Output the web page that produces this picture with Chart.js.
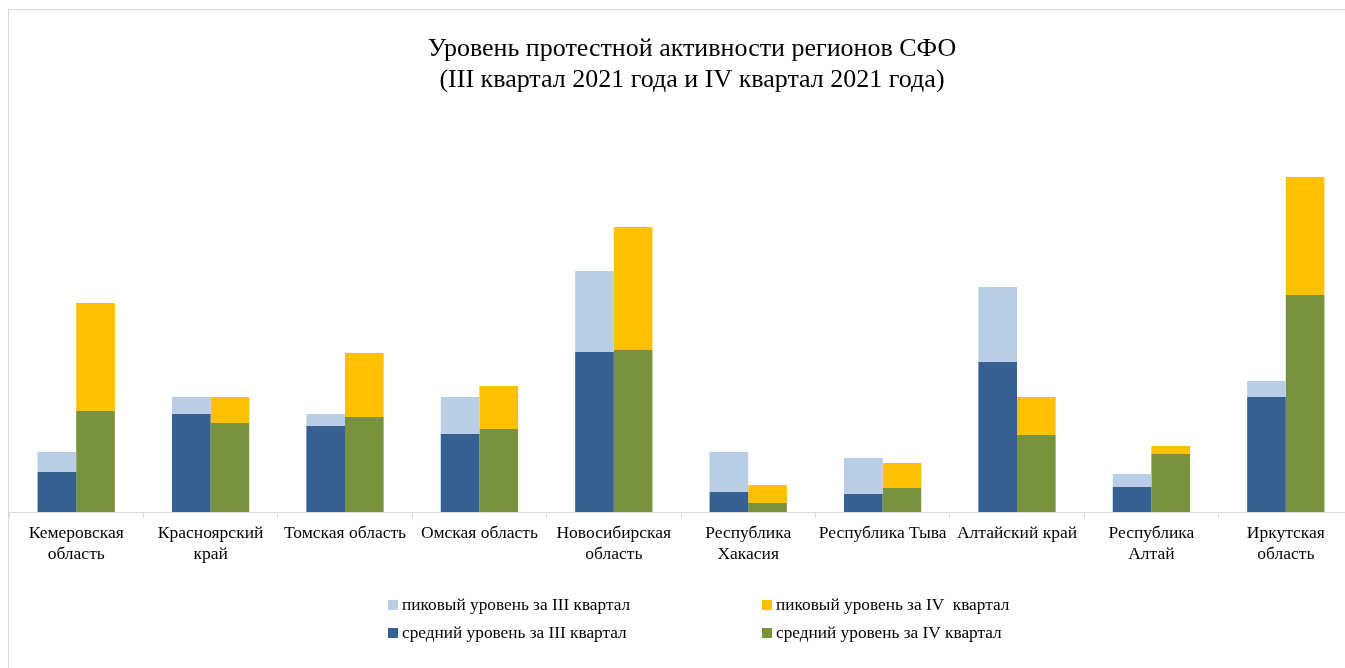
<!DOCTYPE html>
<html lang="ru">
<head>
  <meta charset="utf-8">
  <title>Уровень протестной активности регионов СФО</title>
  <script src="https://cdn.jsdelivr.net/npm/chart.js@4"></script>
  <style>
    html, body { margin: 0; padding: 0; background: #fff; overflow: hidden; }
    #frame {
      position: absolute; left: 8px; top: 9px; width: 1400px; height: 700px;
      border: 1px solid #d9d9d9;
    }
    #chart { position: absolute; left: 0; top: 0; }
  </style>
</head>
<body>
  <div id="frame"></div>
  <canvas id="chart" width="1384" height="668"></canvas>
  <script>
    // regions of the Siberian federal district
    var regions = [
      ['Кемеровская', 'область'],
      ['Красноярский', 'край'],
      'Томская область',
      'Омская область',
      ['Новосибирская', 'область'],
      ['Республика', 'Хакасия'],
      'Республика Тыва',
      'Алтайский край',
      ['Республика', 'Алтай'],
      ['Иркутская', 'область']
    ];

    // average and peak levels, Q3 and Q4 2021
    var avgQ3  = [4.0, 9.8, 8.6, 7.8, 16.0, 2.0, 1.8, 15.0, 2.5, 11.5];
    var peakQ3 = [6.0, 11.5, 9.8, 11.5, 24.1, 6.0, 5.4, 22.5, 3.8, 13.1];
    var avgQ4  = [10.1, 8.9, 9.5, 8.3, 16.2, 0.9, 2.4, 7.7, 5.8, 21.7];
    var peakQ4 = [20.9, 11.5, 15.9, 12.6, 28.5, 2.7, 4.9, 11.5, 6.6, 33.5];

    var yMax = 37.2;
    var serif = '"Liberation Serif", "Times New Roman", serif';

    // peak part sits on top of the average part
    var diff = function (top, base) {
      return top.map(function (v, i) { return +(v - base[i]).toFixed(2); });
    };

    // legend drawn as a 2x2 grid: column = quarter, row = peak/average
    var gridLegend = {
      id: 'gridLegend',
      afterDraw: function (chart) {
        var ctx = chart.ctx;
        var colX = [388, 762];
        var rowY = [605, 633];
        ctx.save();
        ctx.font = '17.3px ' + serif;
        ctx.textBaseline = 'middle';
        chart.data.datasets.forEach(function (ds) {
          var x = colX[ds.stack === 'q3' ? 0 : 1];
          var y = rowY[ds.kind === 'peak' ? 0 : 1];
          ctx.fillStyle = ds.backgroundColor;
          ctx.fillRect(x, y - 5, 10, 10);
          ctx.fillStyle = '#000';
          ctx.fillText(ds.label, x + 14, y);
        });
        ctx.restore();
      }
    };

    // invisible side axes only reserve room around the plot
    var spacer = function (w, pos) {
      return {
        position: pos,
        grid: { display: false },
        border: { display: false },
        ticks: { display: false },
        afterFit: function (scale) { scale.width = w; }
      };
    };

    var yAxis = spacer(9, 'left');
    yAxis.stacked = true;
    yAxis.min = 0;
    yAxis.max = yMax;

    var config = {
      type: 'bar',
      data: {
        labels: regions,
        datasets: [{
          label: 'средний уровень за III квартал',
          data: avgQ3,
          stack: 'q3',
          kind: 'avg',
          backgroundColor: '#376092'
        }, {
          label: 'пиковый уровень за III квартал',
          data: diff(peakQ3, avgQ3),
          stack: 'q3',
          kind: 'peak',
          backgroundColor: '#b9cde5'
        }, {
          label: 'средний уровень за IV квартал',
          data: avgQ4,
          stack: 'q4',
          kind: 'avg',
          backgroundColor: '#77933c'
        }, {
          label: 'пиковый уровень за IV  квартал',
          data: diff(peakQ4, avgQ4),
          stack: 'q4',
          kind: 'peak',
          backgroundColor: '#ffc000'
        }]
      },
      options: {
        responsive: false,
        animation: false,
        categoryPercentage: 0.575,
        barPercentage: 1,
        layout: {
          padding: 0
        },
        scales: {
          x: {
            stacked: true,
            grid: {
              display: true,
              drawOnChartArea: false,
              color: '#d9d9d9',
              tickLength: 6,
              offset: true
            },
            border: { display: true, color: '#d9d9d9' },
            ticks: {
              color: '#000',
              autoSkip: false,
              maxRotation: 0,
              padding: 5,
              font: { family: serif, size: 17.5 }
            },
            afterFit: function (scale) { scale.height = 156; }
          },
          y: yAxis,
          yRight: spacer(31, 'right')
        },
        plugins: {
          legend: { display: false },
          tooltip: { enabled: false },
          title: {
            display: true,
            text: ['Уровень протестной активности регионов СФО',
                   '(III квартал 2021 года и IV квартал 2021 года)'],
            color: '#000',
            font: { family: serif, size: 26, weight: 'normal', lineHeight: 1.2 },
            padding: { top: 33.5, bottom: 44.1 }
          }
        }
      },
      plugins: [gridLegend]
    };

    window.onload = function () {
      var ctx = document.getElementById('chart').getContext('2d');
      window.myChart = new Chart(ctx, config);
    };
  </script>
</body>
</html>
